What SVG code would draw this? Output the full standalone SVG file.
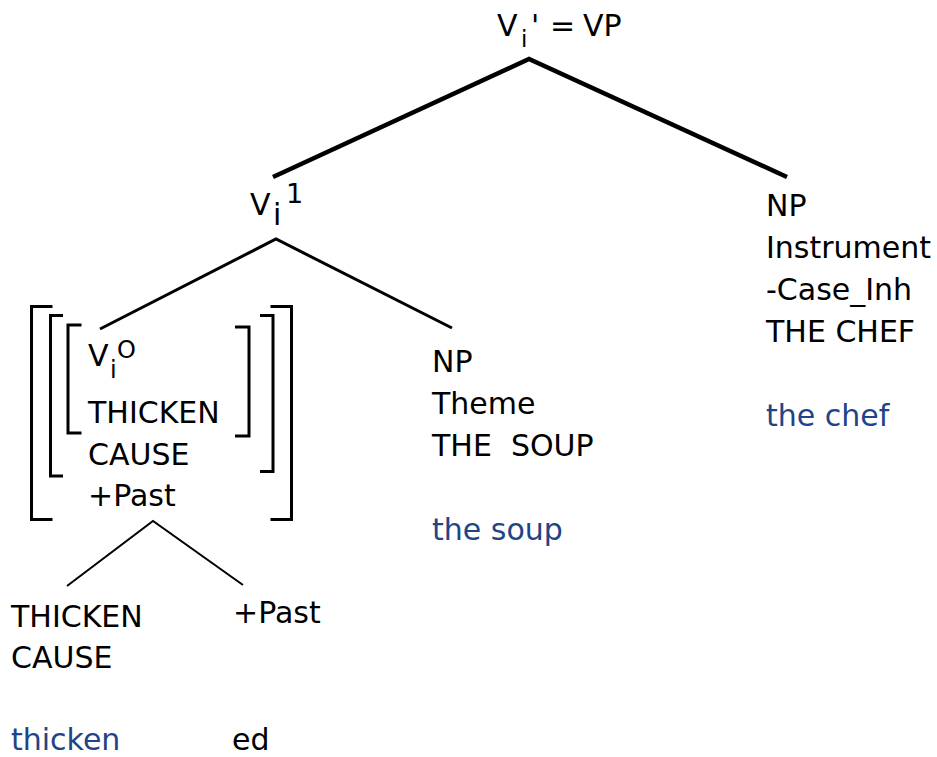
<svg xmlns="http://www.w3.org/2000/svg" width="937" height="757" viewBox="0 0 937 757">
<style>
text{font-family:"DejaVu Sans","Liberation Sans",sans-serif;font-size:30px;fill:#000}
.gl{fill:#1f4587}
.sm{font-size:24px}
.br{fill:none;stroke:#000;stroke-width:3}
.edge{fill:none;stroke:#000;stroke-linecap:butt}
</style>
<rect width="937" height="757" fill="#fff"/>
<g id="connectors">
<polyline class="edge" stroke-width="4.5" points="273,177 529,59 787,177"/>
<polyline class="edge" stroke-width="3" points="100,329 276,239 452,328"/>
<polyline class="edge" stroke-width="2" points="67,586 153,521 243,585"/>
</g>
<g id="root">
<text x="497" y="36">V</text>
<text class="sm" x="521" y="47" style="font-size:23px">i</text>
<text x="531" y="36">'</text>
<text x="550" y="36">=</text>
<text x="583" y="36">VP</text>
</g>
<g id="v1">
<text x="250" y="215">V</text>
<text x="273" y="225">i</text>
<text x="286" y="203" style="font-size:27px">1</text>
</g>
<g id="v0">
<path class="br" d="M52.5,306.5H31.5V519.5H52.5"/>
<path class="br" d="M270.5,306.5H291.5V519.5H270.5"/>
<path class="br" d="M63,315.5H50.5V476H63"/>
<path class="br" d="M260,315.5H273V471.5H260"/>
<path class="br" d="M81.5,325H68V433H81.5"/>
<path class="br" d="M235,327H249V436H235"/>
<text x="88" y="366">V</text>
<text class="sm" x="110" y="378">i</text>
<text class="sm" x="117" y="358">O</text>
<text x="88" y="423">THICKEN</text>
<text x="88" y="465">CAUSE</text>
<text x="88" y="506">+Past</text>
</g>
<g id="np-theme">
<text x="432" y="372">NP</text>
<text x="432" y="414">Theme</text>
<text x="432" y="456" xml:space="preserve">THE  SOUP</text>
<text class="gl" x="432" y="540">the soup</text>
</g>
<g id="np-instrument">
<text x="766" y="216">NP</text>
<text x="766" y="258">Instrument</text>
<text x="766" y="300">-Case_Inh</text>
<text x="766" y="342">THE CHEF</text>
<text class="gl" x="766" y="426">the chef</text>
</g>
<g id="thicken">
<text x="11" y="627">THICKEN</text>
<text x="11" y="668">CAUSE</text>
<text class="gl" x="11" y="750">thicken</text>
</g>
<g id="past">
<text x="233" y="623">+Past</text>
<text x="232" y="750">ed</text>
</g>
</svg>
